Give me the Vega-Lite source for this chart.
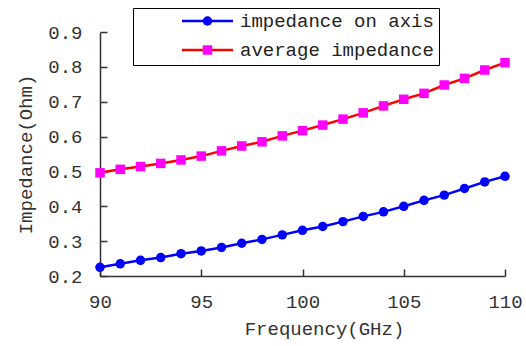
{
  "$schema": "https://vega.github.io/schema/vega-lite/v6.json",
  "width": 405,
  "height": 244,
  "autosize": {"type": "none"},
  "padding": {"left": 100, "top": 32, "right": 21, "bottom": 70},
  "background": "white",
  "config": {"view": {"stroke": null}, "font": "Liberation Mono"},
  "data": {
    "values": [
      {"frequency": 90, "series": "impedance on axis", "impedance": 0.225},
      {"frequency": 91, "series": "impedance on axis", "impedance": 0.235},
      {"frequency": 92, "series": "impedance on axis", "impedance": 0.245},
      {"frequency": 93, "series": "impedance on axis", "impedance": 0.253},
      {"frequency": 94, "series": "impedance on axis", "impedance": 0.264},
      {"frequency": 95, "series": "impedance on axis", "impedance": 0.272},
      {"frequency": 96, "series": "impedance on axis", "impedance": 0.282},
      {"frequency": 97, "series": "impedance on axis", "impedance": 0.294},
      {"frequency": 98, "series": "impedance on axis", "impedance": 0.305},
      {"frequency": 99, "series": "impedance on axis", "impedance": 0.318},
      {"frequency": 100, "series": "impedance on axis", "impedance": 0.331},
      {"frequency": 101, "series": "impedance on axis", "impedance": 0.342},
      {"frequency": 102, "series": "impedance on axis", "impedance": 0.356},
      {"frequency": 103, "series": "impedance on axis", "impedance": 0.371},
      {"frequency": 104, "series": "impedance on axis", "impedance": 0.384},
      {"frequency": 105, "series": "impedance on axis", "impedance": 0.4},
      {"frequency": 106, "series": "impedance on axis", "impedance": 0.417},
      {"frequency": 107, "series": "impedance on axis", "impedance": 0.432},
      {"frequency": 108, "series": "impedance on axis", "impedance": 0.451},
      {"frequency": 109, "series": "impedance on axis", "impedance": 0.47},
      {"frequency": 110, "series": "impedance on axis", "impedance": 0.486},
      {"frequency": 90, "series": "average impedance", "impedance": 0.496},
      {"frequency": 91, "series": "average impedance", "impedance": 0.506},
      {"frequency": 92, "series": "average impedance", "impedance": 0.514},
      {"frequency": 93, "series": "average impedance", "impedance": 0.523},
      {"frequency": 94, "series": "average impedance", "impedance": 0.533},
      {"frequency": 95, "series": "average impedance", "impedance": 0.544},
      {"frequency": 96, "series": "average impedance", "impedance": 0.559},
      {"frequency": 97, "series": "average impedance", "impedance": 0.573},
      {"frequency": 98, "series": "average impedance", "impedance": 0.585},
      {"frequency": 99, "series": "average impedance", "impedance": 0.602},
      {"frequency": 100, "series": "average impedance", "impedance": 0.617},
      {"frequency": 101, "series": "average impedance", "impedance": 0.633},
      {"frequency": 102, "series": "average impedance", "impedance": 0.65},
      {"frequency": 103, "series": "average impedance", "impedance": 0.668},
      {"frequency": 104, "series": "average impedance", "impedance": 0.688},
      {"frequency": 105, "series": "average impedance", "impedance": 0.707},
      {"frequency": 106, "series": "average impedance", "impedance": 0.724},
      {"frequency": 107, "series": "average impedance", "impedance": 0.748},
      {"frequency": 108, "series": "average impedance", "impedance": 0.767},
      {"frequency": 109, "series": "average impedance", "impedance": 0.791},
      {"frequency": 110, "series": "average impedance", "impedance": 0.812}
    ]
  },
  "encoding": {
    "x": {
      "field": "frequency",
      "type": "quantitative",
      "scale": {"domain": [90, 110], "nice": false, "zero": false},
      "axis": {
        "values": [90, 95, 100, 105, 110],
        "title": "Frequency(GHz)",
        "grid": false,
        "tickSize": -7,
        "labelPadding": 23,
        "domainColor": "#333333",
        "tickColor": "#333333",
        "domainWidth": 1.5,
        "tickWidth": 1.5,
        "labelFont": "Liberation Mono",
        "labelFontSize": 19,
        "labelColor": "#333333",
        "labelFlush": false,
        "titleFont": "Liberation Mono",
        "titleFontSize": 19,
        "titleFontWeight": "normal",
        "titleColor": "#333333",
        "titleX": 224,
        "titleY": 52,
        "titleBaseline": "middle",
        "titleAlign": "center"
      }
    },
    "y": {
      "field": "impedance",
      "type": "quantitative",
      "scale": {"domain": [0.2, 0.9], "nice": false, "zero": false},
      "axis": {
        "values": [0.2, 0.3, 0.4, 0.5, 0.6, 0.7, 0.8, 0.9],
        "format": ".1f",
        "title": "Impedance(Ohm)",
        "grid": false,
        "tickSize": -7,
        "labelPadding": 25,
        "domainColor": "#333333",
        "tickColor": "#333333",
        "domainWidth": 1.5,
        "tickWidth": 1.5,
        "labelFont": "Liberation Mono",
        "labelFontSize": 19,
        "labelColor": "#333333",
        "labelFlush": false,
        "titleFont": "Liberation Mono",
        "titleFontSize": 19,
        "titleFontWeight": "normal",
        "titleColor": "#333333",
        "titleX": -75,
        "titleY": 122,
        "titleAngle": 270,
        "titleBaseline": "middle",
        "titleAlign": "center"
      }
    }
  },
  "layer": [
    {
      "mark": {"type": "line", "strokeWidth": 2.5},
      "encoding": {
        "stroke": {
          "field": "series",
          "type": "nominal",
          "sort": null,
          "scale": {"range": ["#0000ff", "#ff0000"]},
          "legend": {
            "orient": "none",
            "legendX": 33,
            "legendY": -24,
            "title": null,
            "symbolType": "stroke",
            "symbolSize": 2601,
            "symbolStrokeWidth": 2.5,
            "clipHeight": 16,
            "rowPadding": 10,
            "padding": 5,
            "symbolOffset": 42.5,
            "labelOffset": 5.5,
            "labelLimit": 0,
            "labelFont": "Liberation Mono",
            "labelFontSize": 19,
            "labelColor": "#222222",
            "strokeColor": "#000000",
            "fillColor": "white",
            "labelExpr": "datum.label + '         '",
            "zindex": 1
          }
        }
      }
    },
    {
      "mark": {"type": "point", "filled": true, "size": 90, "opacity": 1, "strokeWidth": 0},
      "encoding": {
        "fill": {
          "field": "series",
          "type": "nominal",
          "scale": {"domain": ["impedance on axis", "average impedance"], "range": ["#0000ff", "#ff00ff"]},
          "legend": {
            "orient": "none",
            "legendX": 33,
            "legendY": -24,
            "title": null,
            "symbolSize": 90,
            "symbolStrokeWidth": 0,
            "symbolOpacity": 1,
            "clipHeight": 16,
            "rowPadding": 10,
            "padding": 5,
            "symbolOffset": 60,
            "labelFontSize": 19,
            "labelExpr": "''",
            "zindex": 2
          }
        },
        "shape": {
          "field": "series",
          "type": "nominal",
          "scale": {"domain": ["impedance on axis", "average impedance"], "range": ["circle", "square"]},
          "legend": {
            "orient": "none",
            "legendX": 33,
            "legendY": -24,
            "title": null,
            "symbolSize": 90,
            "symbolStrokeWidth": 0,
            "symbolOpacity": 1,
            "clipHeight": 16,
            "rowPadding": 10,
            "padding": 5,
            "symbolOffset": 60,
            "labelFontSize": 19,
            "labelExpr": "''",
            "zindex": 2
          }
        }
      }
    }
  ]
}
